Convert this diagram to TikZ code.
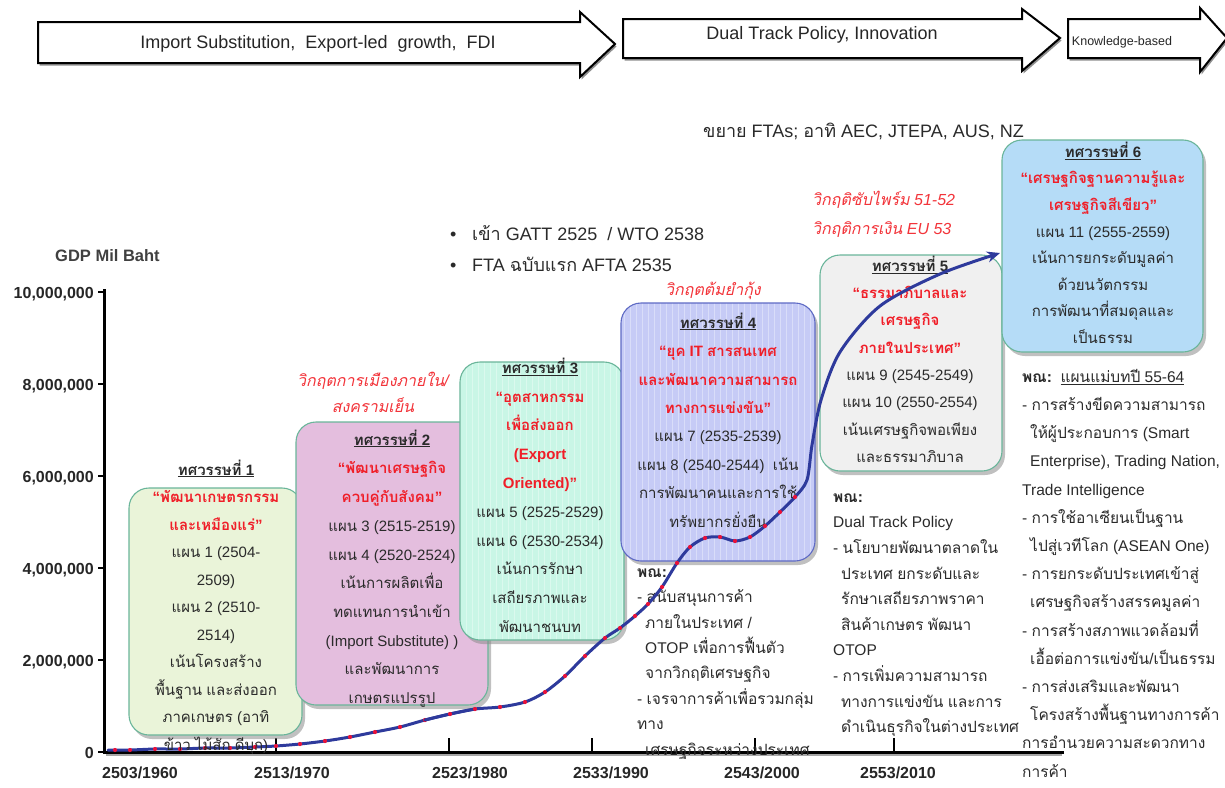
\documentclass[tikz,border=0pt]{standalone}
\usepackage{fontspec}
\setmainfont{Liberation Sans}
\newfontfamily\thaifont[Script=Thai]{Loma}
\usetikzlibrary{shadows,arrows.meta}

% Thai characters are set in Loma automatically, everything else in Liberation Sans
\XeTeXinterchartokenstate=1
\newXeTeXintercharclass\ThaiCls
\count255="0E00
\loop
  \XeTeXcharclass\count255=\ThaiCls
  \ifnum\count255<"0E7F
  \advance\count255 by 1
\repeat
\XeTeXinterchartoks 0 \ThaiCls = {\begingroup\thaifont}
\XeTeXinterchartoks 4095 \ThaiCls = {\begingroup\thaifont}
\XeTeXinterchartoks \ThaiCls 0 = {\endgroup}
\XeTeXinterchartoks \ThaiCls 4095 = {\endgroup}

\definecolor{hred}{HTML}{F01E28}
\definecolor{crisis}{HTML}{F2343A}
\definecolor{gdpblue}{HTML}{2E3A9C}
\definecolor{dotred}{HTML}{E8123A}
\definecolor{txt}{HTML}{2A2A2A}
\definecolor{edgegreen}{HTML}{6AB59A}
\definecolor{edgeblue}{HTML}{5E6AC4}
\definecolor{fillA}{HTML}{EAF4D9}
\definecolor{fillB}{HTML}{E4BEDE}
\definecolor{fillC}{HTML}{C9F6E6}
\definecolor{fillD}{HTML}{C6CBF6}
\definecolor{fillE}{HTML}{F0F0F0}
\definecolor{fillF}{HTML}{B5DCF7}
\newcommand\lnstrut{\rule{0pt}{16pt}}

\begin{document}
\begin{tikzpicture}[x=1pt,y=-1pt,
  stagearrow/.style={draw=black, line width=2pt, fill=white, line join=miter,
    drop shadow={shadow xshift=1.5pt, shadow yshift=-2.5pt, fill=black!55, opacity=.8}},
  stagetext/.style={font=\fontsize{18}{20}\selectfont, text=black!85},
  decbox/.style={draw=#1, line width=1.1pt, rounded corners=20pt, inner sep=0pt,
    drop shadow={shadow xshift=3pt, shadow yshift=-4pt, fill=black!45, opacity=.55}},
  stripes/.style={path picture={
    \foreach \i in {-100,-94,...,100}
      \draw[white, opacity=.35, line width=.9pt]
        ([xshift=\i pt]path picture bounding box.north) --
        ([xshift=\i pt]path picture bounding box.south);}},
  boxtxt/.style={align=center, inner sep=0pt, anchor=north, text=txt,
    font=\fontsize{15}{#1}\selectfont},
  notetxt/.style={align=left, inner sep=0pt, anchor=north west, text=txt,
    font=\fontsize{15.5}{#1}\selectfont},
  crisistxt/.style={text=crisis, inner sep=0pt, font=\fontsize{16}{26.5}\selectfont\itshape},
  ylab/.style={anchor=base east, inner sep=0pt, font=\fontsize{16}{18}\selectfont\bfseries, text=black!85},
  xlab/.style={anchor=base, inner sep=0pt, font=\fontsize{16}{18}\selectfont\bfseries, text=black!85},
  gdp/.style={draw=gdpblue, line width=3pt, line cap=round, line join=round},
  gdpdot/.style={fill=dotred},
]
\useasboundingbox (0,0) rectangle (1225,787);

% ---------- stage arrows along the top ----------
\draw[stagearrow] (38,22) -- (580,22) -- (580,12) -- (615,44) -- (580,77) -- (580,63) -- (38,63) -- cycle;
\draw[stagearrow] (623,19) -- (1022,19) -- (1022,9) -- (1060,38) -- (1022,71) -- (1022,58) -- (623,58) -- cycle;
\draw[stagearrow] (1068,19) -- (1200,19) -- (1200,8) -- (1227,38) -- (1200,72) -- (1200,58) -- (1068,58) -- cycle;
\node[stagetext] (s1) at (318,44) {Import Substitution,\ \ Export-led\ \ growth,\ \ FDI};
\node[stagetext] (s2) at (822,35) {Dual Track Policy, Innovation};
\node[stagetext, font=\fontsize{12.5}{14}\selectfont] (s3) at (1122,42) {Knowledge-based};

% ---------- axes ----------
\coordinate (O) at (104,752);
\coordinate (ytop) at (104,290);
\coordinate (xend) at (1062,752);
\draw[black!35, line width=2pt] (106,754.5) -- (1062,754.5);
\draw[line width=3pt, line cap=rect] (ytop) -- (O) -- (xend);
\node[anchor=base west, inner sep=0pt, font=\fontsize{16.5}{18}\selectfont\bfseries, text=black!75] (gdplab) at (55,261) {GDP Mil Baht};
\foreach \y/\lab [count=\i] in {752/0, 660/{2,000,000}, 568/{4,000,000}, 476/{6,000,000}, 384/{8,000,000}, 292/{10,000,000}} {
  \draw[line width=2pt] (98,\y) -- (104,\y);
  \node[ylab] (yl\i) at (94,\y+6) {\lab};
}
\foreach \x in {276,449,592,755,894}
  \draw[line width=2.5pt] (\x,752) -- (\x,738);
\foreach \x/\lab [count=\i] in {140/{2503/1960}, 292/{2513/1970}, 470/{2523/1980}, 611/{2533/1990}, 762/{2543/2000}, 898/{2553/2010}}
  \node[xlab] (xl\i) at (\x,778) {\lab};

% ---------- GDP series, early part (beneath the boxes) ----------
\draw[gdp] plot[smooth, tension=.5] coordinates {(108,750)(130,750)(155,749)(180,749)(205,748)(230,748)(255,747)(276,746)(300,744)(325,741)(350,737)(375,732)(400,727)(425,720)(450,714)(475,709)};
\foreach \p in {(115,750),(130,750),(155,749),(180,749),(205,748),(230,748),(255,747),(276,746),(300,744),(325,741),(350,737),(375,732),(400,727),(425,720)}
  \fill[gdpdot] \p circle[radius=2.1pt];

% ---------- decade boxes ----------
\node[decbox=edgegreen, fill=fillA, minimum width=173pt, minimum height=247pt] (d1) at (215.5,611.5) {};
\node[boxtxt=27.5] (d1t) at (216,459) {\lnstrut\underline{\textbf{ทศวรรษที่ 1}}\\
  \textcolor{hred}{\textbf{“พัฒนาเกษตรกรรม}}\\
  \textcolor{hred}{\textbf{และเหมืองแร่”}}\\
  แผน 1 (2504-\\ 2509)\\ แผน 2 (2510-\\ 2514)\\
  เน้นโครงสร้าง\\ พื้นฐาน และส่งออก\\ ภาคเกษตร (อาทิ\\ ข้าว ไม้สัก ดีบุก)};

\node[decbox=edgegreen, fill=fillB, minimum width=192pt, minimum height=283pt] (d2) at (392,563.5) {};
\node[boxtxt=28.7] (d2t) at (392,429) {\lnstrut\underline{\textbf{ทศวรรษที่ 2}}\\
  \textcolor{hred}{\textbf{“พัฒนาเศรษฐกิจ}}\\
  \textcolor{hred}{\textbf{ควบคู่กับสังคม”}}\\
  แผน 3 (2515-2519)\\ แผน 4 (2520-2524)\\
  เน้นการผลิตเพื่อ\\ ทดแทนการนำเข้า\\ (Import Substitute) )\\
  และพัฒนาการ\\ เกษตรแปรรูป};

\node[decbox=edgegreen, fill=fillC, stripes, minimum width=164pt, minimum height=278pt] (d3) at (542,501) {};
\node[boxtxt=28.8] (d3t) at (540,357) {\lnstrut\underline{\textbf{ทศวรรษที่ 3}}\\
  \textcolor{hred}{\textbf{“อุตสาหกรรม}}\\
  \textcolor{hred}{\textbf{เพื่อส่งออก}}\\
  \textcolor{hred}{\textbf{(Export}}\\
  \textcolor{hred}{\textbf{Oriented)”}}\\
  แผน 5 (2525-2529)\\ แผน 6 (2530-2534)\\
  เน้นการรักษา\\ เสถียรภาพและ\\ พัฒนาชนบท};

\node[decbox=edgeblue, fill=fillD, stripes, minimum width=194pt, minimum height=258pt] (d4) at (718,432) {};
\node[boxtxt=28.4] (d4t) at (718,312) {\lnstrut\underline{\textbf{ทศวรรษที่ 4}}\\
  \textcolor{hred}{\textbf{“ยุค IT สารสนเทศ}}\\
  \textcolor{hred}{\textbf{และพัฒนาความสามารถ}}\\
  \textcolor{hred}{\textbf{ทางการแข่งขัน”}}\\
  แผน 7 (2535-2539)\\ แผน 8 (2540-2544)\ \ เน้น\\
  การพัฒนาคนและการใช้\\ ทรัพยากรยั่งยืน};

\node[decbox=edgegreen, fill=fillE, minimum width=182pt, minimum height=216pt] (d5) at (911,363) {};
\node[boxtxt=27.3] (d5t) at (910,255) {\lnstrut\underline{\textbf{ทศวรรษที่ 5}}\\
  \textcolor{hred}{\textbf{“ธรรมาภิบาลและ}}\\
  \textcolor{hred}{\textbf{เศรษฐกิจ}}\\
  \textcolor{hred}{\textbf{ภายในประเทศ”}}\\
  แผน 9 (2545-2549)\\ แผน 10 (2550-2554)\\
  เน้นเศรษฐกิจพอเพียง\\ และธรรมาภิบาล};

\node[decbox=edgegreen, fill=fillF, minimum width=201pt, minimum height=212pt] (d6) at (1102.5,246) {};
\node[boxtxt=26.6] (d6t) at (1103,141) {\lnstrut\underline{\textbf{ทศวรรษที่ 6}}\\
  \textcolor{hred}{\textbf{“เศรษฐกิจฐานความรู้และ}}\\
  \textcolor{hred}{\textbf{เศรษฐกิจสีเขียว”}}\\
  แผน 11 (2555-2559)\\ เน้นการยกระดับมูลค่า\\
  ด้วยนวัตกรรม\\ การพัฒนาที่สมดุลและ\\ เป็นธรรม};

% ---------- crisis labels ----------
\node[crisistxt, align=center, anchor=north] (c2) at (373,370) {\lnstrut วิกฤตการเมืองภายใน/\\สงครามเย็น};
\node[crisistxt, anchor=base] (c4) at (713,295) {วิกฤตต้มยำกุ้ง};
\node[crisistxt, align=left, anchor=north west, font=\fontsize{16}{29}\selectfont\itshape] (c5) at (812,189) {\lnstrut วิกฤติซับไพร์ม 51-52\\วิกฤติการเงิน EU 53};

% ---------- trade agreements ----------
\node[align=left, anchor=north west, inner sep=0pt, text=txt, font=\fontsize{18}{31}\selectfont] (gatt) at (450,224)
  {\lnstrut\makebox[22pt][l]{•}เข้า GATT 2525\ \ / WTO 2538\\ \makebox[22pt][l]{•}FTA ฉบับแรก AFTA 2535};
\node[anchor=base west, inner sep=0pt, text=txt, font=\fontsize{18}{20}\selectfont] (ftas) at (703,137) {ขยาย FTAs; อาทิ AEC, JTEPA, AUS, NZ};

% ---------- ministry notes ----------
\node[notetxt=25.4] (n4) at (637,561) {\lnstrut\textbf{พณ:}\\
  - สนับสนุนการค้า\\ \hspace*{8pt}ภายในประเทศ /\\ \hspace*{8pt}OTOP เพื่อการฟื้นตัว\\
  \hspace*{8pt}จากวิกฤติเศรษฐกิจ\\ - เจรจาการค้าเพื่อรวมกลุ่ม\\ ทาง\\ \hspace*{8pt}เศรษฐกิจระหว่างประเทศ};

\node[notetxt=25.6] (n5) at (833,486) {\lnstrut\textbf{พณ:}\\ Dual Track Policy\\
  - นโยบายพัฒนาตลาดใน\\ \hspace*{8pt}ประเทศ ยกระดับและ\\ \hspace*{8pt}รักษาเสถียรภาพราคา\\
  \hspace*{8pt}สินค้าเกษตร พัฒนา\\ OTOP\\ - การเพิ่มความสามารถ\\
  \hspace*{8pt}ทางการแข่งขัน และการ\\ \hspace*{8pt}ดำเนินธุรกิจในต่างประเทศ};

\node[notetxt=28.2] (n6) at (1022,366) {\lnstrut\textbf{พณ:}\ \ \underline{แผนแม่บทปี 55-64}\\
  - การสร้างขีดความสามารถ\\ \hspace*{8pt}ให้ผู้ประกอบการ (Smart\\ \hspace*{8pt}Enterprise), Trading Nation,\\
  Trade Intelligence\\ - การใช้อาเซียนเป็นฐาน\\ \hspace*{8pt}ไปสู่เวทีโลก (ASEAN One)\\
  - การยกระดับประเทศเข้าสู่\\ \hspace*{8pt}เศรษฐกิจสร้างสรรคมูลค่า\\
  - การสร้างสภาพแวดล้อมที่\\ \hspace*{8pt}เอื้อต่อการแข่งขัน/เป็นธรรม\\
  - การส่งเสริมและพัฒนา\\ \hspace*{8pt}โครงสร้างพื้นฐานทางการค้า\\
  การอำนวยความสะดวกทาง\\ การค้า};

% ---------- GDP series, later part and trend arrow (over the boxes) ----------
\draw[gdp, -{Stealth[length=13pt, width=11pt]}] plot[smooth, tension=.5] coordinates {(425,720)(450,714)(475,709)(500,707)(525,702)(545,692)(565,676)(585,656)(605,638)(620,628)(635,616)(648,604)(662,587)(677,563)(690,547)(705,538)(720,537)(735,541)(750,537)(765,526)(780,512)(795,497)(807,480)(812,445)(821,400)(840,352)(880,306)(940,274)(1000,253)};
\foreach \p in {(450,714),(475,709),(500,707),(525,702),(545,692),(565,676),(585,656),(605,638),(620,628),(635,616),(648,604),(662,587),(677,563),(690,547),(705,538),(720,537),(735,541),(750,537),(765,526),(780,512),(795,497)}
  \fill[gdpdot] \p circle[radius=2.1pt];
\end{tikzpicture}
\end{document}
